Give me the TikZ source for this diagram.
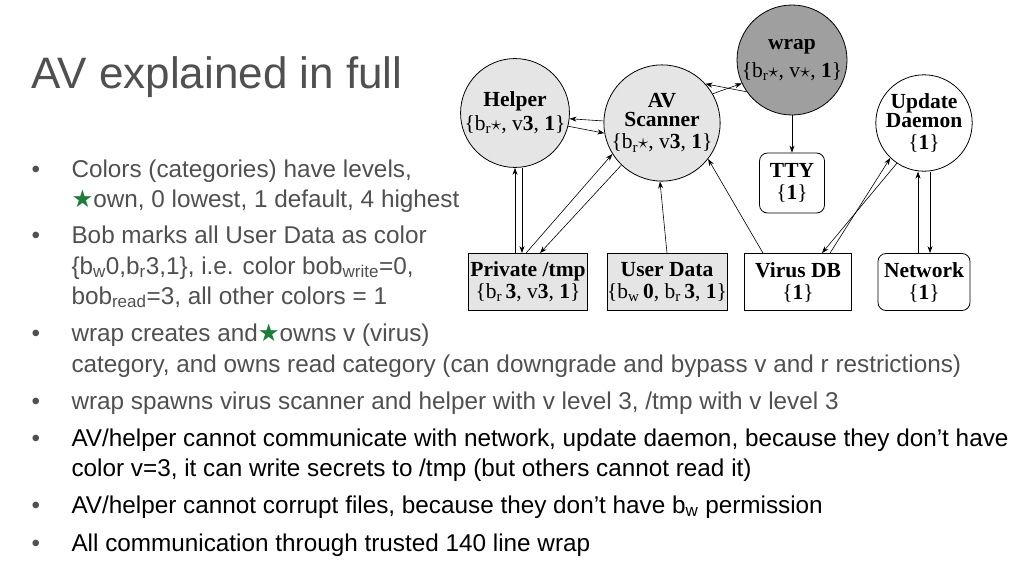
\documentclass[tikz,border=0pt]{standalone}
\usepackage{fontspec}
\setmainfont{Liberation Sans}
\newfontfamily\dserif{Liberation Serif}
\newfontfamily\dsym{DejaVu Sans}
\usetikzlibrary{positioning,arrows.meta}
\definecolor{txtgray}{HTML}{505050}
\definecolor{stargreen}{HTML}{1E7B3A}
\newcommand{\br}{b\textsubscript{r}}
\newcommand{\bw}{b\textsubscript{w}}
\begin{document}
\begin{tikzpicture}[x=1pt,y=-1pt]

% stili dei nodi
\tikzset{proc/.style={circle,draw,thick,fill=#1,minimum size=104pt,inner sep=0pt,align=center,font=\dserif\fontsize{21.5}{22}\selectfont}}
\tikzset{store/.style={rectangle,draw,thick,fill=#1,inner sep=0pt,align=center,font=\dserif\fontsize{21.5}{22}\selectfont}}
\tikzset{arr/.style={-{Stealth[length=7pt,width=5pt]},semithick}}
\tikzset{bul/.style={anchor=base west,font=\fontsize{24.3}{26}\selectfont,text=#1}}

\useasboundingbox (0,0) rectangle (1024,576);

% titolo
\node[anchor=base west,font=\fontsize{44}{46}\selectfont,text=txtgray] (title) at (28,88) {AV explained in full};

% nodi del diagramma
\node[proc=gray!20] (h) at (515,113) {\textbf{Helper}\\[2pt]{\{\br$\star$, v\textbf{3}, \textbf{1}\}}};
\node[proc=gray!20] (av) at (662,123) {\textbf{AV}\\[-3pt]\textbf{Scanner}\\{\{\br$\star$, v\textbf{3}, \textbf{1}\}}};
\node[proc=gray!75,minimum size=110pt] (w) at (792,60) {\textbf{wrap}\\[6pt]{\{\br$\star$, v$\star$, \textbf{1}\}}};
\node[proc=white,minimum size=92pt] (ud) at (924,123) {\textbf{Update}\\[-3pt]\textbf{Daemon}\\{\{\textbf{1}\}}};
\node[store=white,rounded corners=8pt,minimum width=65pt,minimum height=60pt] (tty) at (792,183) {\textbf{TTY}\\{\{\textbf{1}\}}};
\node[store=gray!20,minimum width=119pt,minimum height=57pt] (p) at (528,282) {\textbf{Private /tmp}\\{\{\br\,\textbf{3}, v\textbf{3}, \textbf{1}\}}};
\node[store=gray!20,minimum width=120pt,minimum height=57pt] (u) at (667,282) {\textbf{User Data}\\{\{\bw\,\textbf{0}, \br\,\textbf{3}, \textbf{1}\}}};
\node[store=white,minimum width=107pt,minimum height=57pt] (vdb) at (798,282) {\textbf{Virus DB}\\{\{\textbf{1}\}}};
\node[store=white,rounded corners=8pt,minimum width=92pt,minimum height=57pt] (net) at (924,282) {\textbf{Network}\\{\{\textbf{1}\}}};

% connettori
\draw[arr] (av.178) -- (h.-6);
\draw[arr] (h.-14) -- (av.190);
\draw[arr] ([xshift=-13]p.north) -- ([xshift=-13]p.north |- h.south);
\draw[arr] ([xshift=-6]p.north |- h.south) -- ([xshift=-6]p.north);
\draw[arr] ([xshift=-2]p.north) -- (av.212);
\draw[arr] (av.226) -- ([xshift=12]p.north);
\draw[arr] (av.30) -- (w.205);
\draw[arr] (w.215) -- (av.42);
\draw[arr] (w.south) -- (tty.north);
\draw[arr] (u.north) -- (av.-92);
\draw[arr] ([xshift=-35]vdb.north) -- (av.-38);
\draw[arr] (ud.236) -- ([xshift=24]vdb.north);
\draw[arr] ([xshift=32]vdb.north) -- (ud.226);
\draw[arr] ([xshift=-6]net.north) -- ([xshift=-6]net.north |- ud.south);
\draw[arr] ([xshift=6]net.north |- ud.south) -- ([xshift=6]net.north);

% testo a sinistra
\foreach \y in {177,243,341,409,446,513,551}
\node[bul=txtgray] at (28,\y) {\textbullet};
\node[bul=txtgray] (t1) at (68,177) {Colors (categories) have levels,};
\node[bul=txtgray] (t2) at (68,207) {{\dsym\color{stargreen}★}own, 0 lowest, 1 default, 4 highest};
\node[bul=txtgray] (t3) at (68,243) {Bob marks all User Data as color};
\node[bul=txtgray] (t4) at (68,274) {\{b\textsubscript{w}0,b\textsubscript{r}3,1\}, i.e. color bob\textsubscript{write}=0,};
\node[bul=txtgray] (t5) at (68,304) {bob\textsubscript{read}=3, all other colors = 1};
\node[bul=txtgray] (t6) at (68,341) {wrap creates and{\dsym\color{stargreen}★}owns v (virus)};
\node[bul=txtgray] (t7) at (68,372) {category, and owns read category (can downgrade and bypass v and r restrictions)};
\node[bul=txtgray] (t8) at (68,409) {wrap spawns virus scanner and helper with v level 3, /tmp with v level 3};
\node[bul=black] (t9) at (68,446) {AV/helper cannot communicate with network, update daemon, because they don’t have};
\node[bul=black] (t10) at (68,476) {color v=3, it can write secrets to /tmp (but others cannot read it)};
\node[bul=black] (t11) at (68,513) {AV/helper cannot corrupt files, because they don’t have b\textsubscript{w} permission};
\node[bul=black] (t12) at (68,551) {All communication through trusted 140 line wrap};

\end{tikzpicture}
\end{document}
